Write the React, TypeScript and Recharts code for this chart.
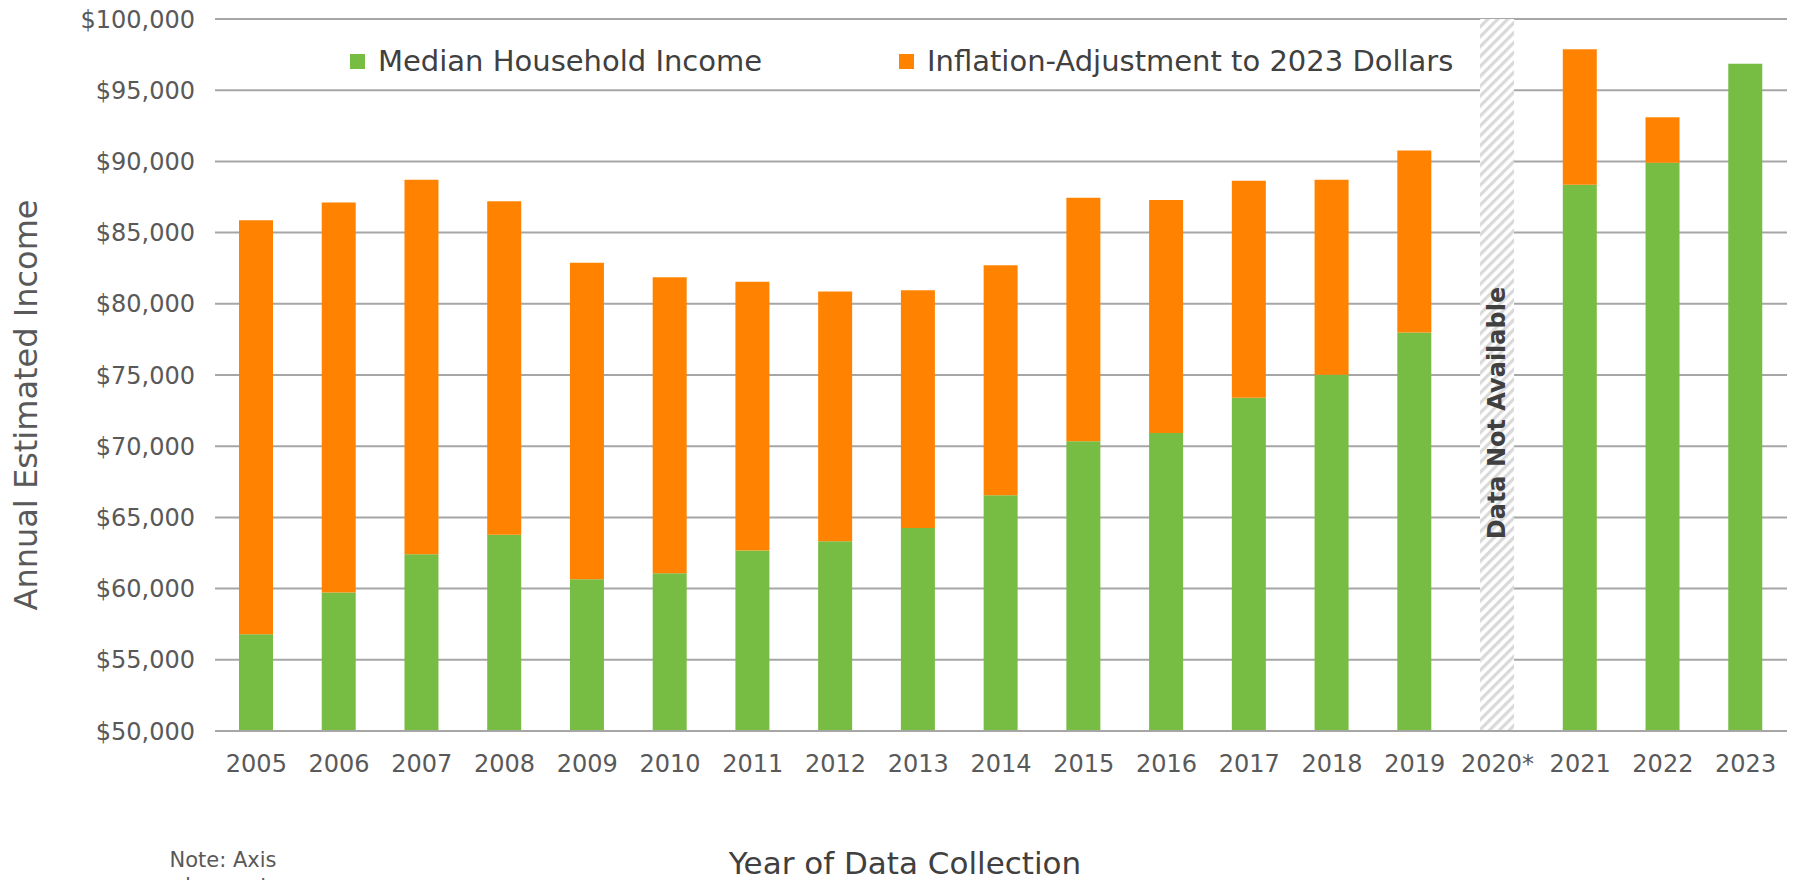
import { BarChart, Bar, XAxis, YAxis, CartesianGrid, Legend } from 'recharts';

const years = ['2005', '2006', '2007', '2008', '2009', '2010', '2011', '2012', '2013', '2014', '2015', '2016', '2017', '2018', '2019', '2020*', '2021', '2022', '2023'];

const medianIncome = [56800, 59720, 62420, 63780, 60650, 61070, 62670, 63330, 64250, 66550, 70350, 70930, 73410, 75020, 77990, null, 88360, 89910, 96850];

const inflationAdjustment = [29060, 27400, 26300, 23420, 22240, 20800, 18870, 17530, 16700, 16160, 17100, 16360, 15230, 13700, 12780, null, 9520, 3190, 0];

// 2020 has no data: drawn as a hatched full-height bar
const notAvailable = [null, null, null, null, null, null, null, null, null, null, null, null, null, null, null, 100000, null, null, null];

const yTicks = [50000, 55000, 60000, 65000, 70000, 75000, 80000, 85000, 90000, 95000, 100000];

const data = years.map((year, i) => ({
  year,
  median: medianIncome[i],
  inflation: inflationAdjustment[i],
  na: notAvailable[i],
}));

const GREEN = '#77bc43';
const ORANGE = '#ff8300';
const GRID = '#a6a6a6';
const FONT = '"DejaVu Sans", sans-serif';

const formatDollar = (v: number) => `$${v.toLocaleString('en-US')}`;

function LegendContent() {
  const items = [
    { label: 'Median Household Income', color: GREEN, left: 350 },
    { label: 'Inflation-Adjustment to 2023 Dollars', color: ORANGE, left: 899 },
  ];
  return (
    <div style={{ position: 'relative', height: 40 }}>
      {items.map((it) => (
        <div
          key={it.label}
          style={{ position: 'absolute', left: it.left, top: 0, display: 'flex', alignItems: 'center', height: 40, whiteSpace: 'nowrap' }}
        >
          <span style={{ width: 15, height: 15, background: it.color, display: 'inline-block', marginRight: 13 }} />
          <span style={{ fontFamily: FONT, fontSize: 29, color: '#404040' }}>{it.label}</span>
        </div>
      ))}
    </div>
  );
}

export default function App() {
  return (
    <div style={{ position: 'absolute', top: 0, left: 0, width: 1798, height: 880, background: '#fff', overflow: 'hidden' }}>
      <svg width="0" height="0" style={{ position: 'absolute' }}>
        <defs>
          <pattern id="hatch" width="7" height="7" patternUnits="userSpaceOnUse" patternTransform="rotate(45)">
            <rect width="7" height="7" fill="#fff" />
            <rect width="3.2" height="7" fill="#d9d9d9" />
          </pattern>
        </defs>
      </svg>
      <BarChart width={1798} height={880} data={data} margin={{ top: 19, right: 11, bottom: 49, left: 0 }}>
        <CartesianGrid vertical={false} stroke={GRID} strokeWidth={2} />
        <XAxis
          dataKey="year"
          height={60}
          tickSize={0}
          tickMargin={24}
          axisLine={{ stroke: GRID, strokeWidth: 2 }}
          tickLine={false}
          interval={0}
          tick={{ fontFamily: FONT, fontSize: 24, fill: '#595959' }}
        />
        <YAxis
          width={215}
          domain={[50000, 100000]}
          ticks={yTicks}
          allowDataOverflow
          axisLine={false}
          tickLine={false}
          tickSize={0}
          tickMargin={20}
          tickFormatter={formatDollar}
          tick={{ fontFamily: FONT, fontSize: 24, fill: '#595959' }}
        />
        <Legend content={<LegendContent />} wrapperStyle={{ position: 'absolute', top: 41, left: 0, width: 1798 }} />
        <Bar dataKey="median" stackId="a" fill={GREEN} barSize={34} isAnimationActive={false} />
        <Bar dataKey="inflation" stackId="a" fill={ORANGE} barSize={34} isAnimationActive={false} />
        <Bar dataKey="na" stackId="a" fill="url(#hatch)" barSize={34} isAnimationActive={false} legendType="none" />
      </BarChart>

      <div
        style={{
          position: 'absolute', left: 1497, top: 413, transform: 'translate(-50%, -50%) rotate(-90deg)',
          fontFamily: FONT, fontWeight: 'bold', fontSize: 24, color: '#404040', whiteSpace: 'nowrap',
        }}
      >
        Data Not Available
      </div>

      <div
        style={{
          position: 'absolute', left: 26, top: 405, transform: 'translate(-50%, -50%) rotate(-90deg)',
          fontFamily: FONT, fontSize: 32, color: '#595959', whiteSpace: 'nowrap',
        }}
      >
        Annual Estimated Income
      </div>

      <div
        style={{
          position: 'absolute', left: 905, top: 863, transform: 'translate(-50%, -50%)',
          fontFamily: FONT, fontSize: 31, color: '#404040', whiteSpace: 'nowrap',
        }}
      >
        Year of Data Collection
      </div>

      <div
        style={{
          position: 'absolute', left: 223, top: 847, transform: 'translateX(-50%)', textAlign: 'center',
          fontFamily: FONT, fontSize: 21, lineHeight: '26px', color: '#595959', whiteSpace: 'nowrap',
        }}
      >
        Note: Axis
        <br />
        does not
      </div>
    </div>
  );
}
